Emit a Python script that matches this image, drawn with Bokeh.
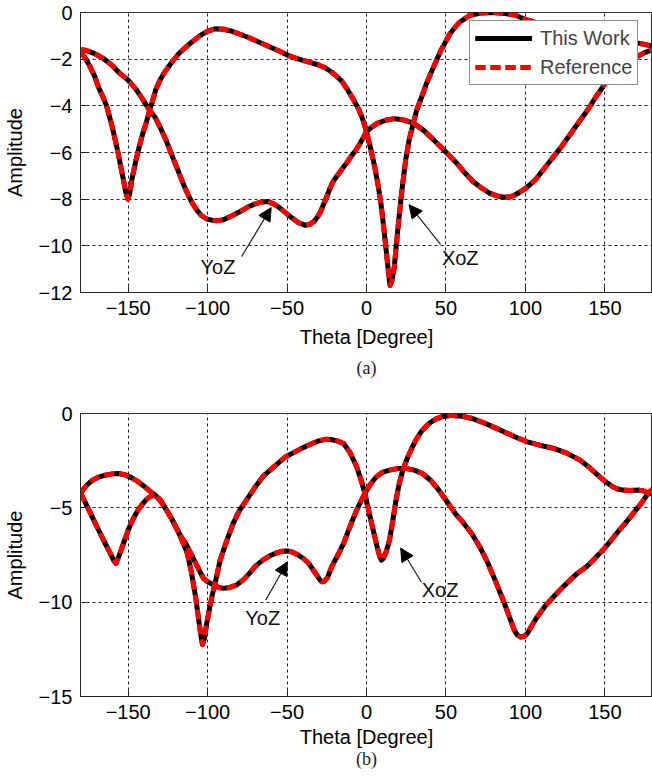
from bokeh.plotting import figure
from bokeh.models import (FixedTicker, Legend, LegendItem, Label, Arrow, NormalHead,
                          Title, Range1d)
from bokeh.layouts import column
from bokeh.embed import file_html
from bokeh.resources import INLINE

# ---------------- data: panel (a) ----------------
theta_a_xoz = [-180, -177, -174, -171, -168.8, -166, -163.6, -160, -156.4, -153.5, -151.5, -150.2,
               -149, -147.5, -145, -143, -140.9, -138.5, -136.5, -134.5, -132.6, -130, -127, -122.2,
               -118, -114, -109.8, -105, -100, -95.3, -90, -85, -80.9, -75, -70, -65, -60, -55,
               -49.8, -45, -40, -35, -30, -25.8, -22, -18.5, -15.5, -12, -8.5, -5.2, -2.5, 0, 2.5,
               5.1, 7.3, 9.3, 11, 12.4, 13.8, 14.8, 16, 17.5, 19, 20.6, 22.5, 24.7, 27, 29.5, 31.5,
               34, 38, 42.3, 47, 52.6, 58, 65, 72, 79.4, 87, 94, 100, 110, 120, 130, 140, 150, 160,
               170, 176, 180]
amp_a_xoz = [-1.7, -1.95, -2.32, -2.75, -3.18, -3.6, -4.0, -4.9, -6.0, -7.0, -7.7, -8.0,
             -7.75, -7.1, -6.3, -5.75, -5.2, -4.7, -4.2, -3.75, -3.3, -2.9, -2.55, -2.1,
             -1.75, -1.5, -1.26, -1.0, -0.8, -0.7, -0.72, -0.8, -0.9, -1.05, -1.2, -1.35, -1.5, -1.65,
             -1.82, -1.95, -2.05, -2.15, -2.25, -2.38, -2.55, -2.75, -2.95, -3.3, -3.7, -4.1, -4.55, -5.1, -5.8,
             -6.6, -7.4, -8.3, -9.3, -10.2, -11.1, -11.7, -11.5, -10.9, -9.8, -8.7, -7.5, -6.3, -5.4, -4.74, -4.2,
             -3.75, -3.0, -2.32, -1.6, -0.9, -0.45, -0.12, -0.02, 0.0, -0.04, -0.12, -0.3, -0.5, -0.65, -0.8, -0.92, -1.03, -1.15,
             -1.3, -1.38, -1.45]

theta_a_yoz = [-180, -177, -174, -170, -165, -160, -155.4, -150, -145, -141, -136.8, -133, -130,
               -126, -122.2, -118.5, -115, -112, -109.8, -107, -104, -100.5, -97.4, -93.5, -90, -85,
               -80, -75, -70, -66, -62, -58.5, -55, -51, -47, -43, -38.4, -35.5, -33, -31, -29, -27,
               -25, -22.8, -20.8, -18, -15.5, -12.5, -10, -7.5, -5.2, -2.5, 0, 3.5, 7, 12, 17.5, 23,
               29.5, 36, 42.3, 49.5, 56.7, 62, 67, 72, 77.4, 82, 86.7, 90.5, 94, 100, 106.3, 114,
               122.8, 131, 139.3, 144.5, 149.6, 155, 160, 165, 170, 175, 180]
amp_a_yoz = [-1.6, -1.62, -1.68, -1.8, -2.0, -2.27, -2.6, -2.9, -3.3, -3.7, -4.17, -4.5, -4.9,
             -5.5, -6.17, -6.8, -7.4, -7.85, -8.15, -8.45, -8.7, -8.85, -8.9, -8.92, -8.88, -8.72,
             -8.55, -8.35, -8.2, -8.12, -8.1, -8.2, -8.35, -8.58, -8.8, -9.0, -9.12, -9.07, -8.95, -8.78, -8.55, -8.22,
             -7.9, -7.5, -7.22, -6.95, -6.72, -6.45, -6.2, -5.97, -5.74, -5.42, -5.1, -4.9, -4.74, -4.62, -4.55, -4.6,
             -4.74, -5.05, -5.46, -5.95, -6.45, -6.88, -7.24, -7.5, -7.74, -7.86, -7.92, -7.9, -7.8, -7.55, -7.17, -6.5,
             -5.74, -4.95, -4.17, -3.6, -3.1, -2.72, -2.4, -2.12, -1.9, -1.72, -1.6]

# ---------------- data: panel (b) ----------------
theta_b_xoz = [-180, -176.5, -172.7, -168.5, -164.5, -161, -159, -157.7, -156, -153, -150, -147,
               -143.8, -141.5, -139, -136.5, -133.5, -130, -126, -122.5, -119, -116, -112.8, -110.2,
               -107.6, -105.5, -104, -103.2, -102, -100.5, -98.8, -97.3, -94.5, -92.1, -88, -83.9,
               -80, -75.6, -70.5, -65.3, -58, -50.8, -42, -34.3, -30, -26, -22.5, -18.5, -14.4,
               -10.5, -6.2, -3.5, -1, 1.5, 4.2, 6.5, 8.2, 9.3, 10.5, 12.5, 14.5, 16.5, 18.6, 20.5,
               22.8, 26.5, 31, 35, 39.3, 43.5, 47.5, 54, 60, 66, 72.3, 80, 88.9, 95, 101.3, 109,
               117.8, 126, 134.3, 140.5, 146.7, 151, 155, 158, 161.2, 166, 171.5, 174.5, 176.7, 180]
amp_b_xoz = [-4.2, -4.8, -5.47, -6.2, -6.88, -7.45, -7.8, -7.95, -7.6, -6.9, -6.18, -5.6,
             -5.12, -4.85, -4.6, -4.42, -4.3, -4.55, -5.1, -5.6, -6.18, -6.75, -7.41, -8.4,
             -9.71, -11.0, -11.9, -12.25, -11.9, -11.1, -10.35, -9.71, -8.7, -7.77, -6.75, -5.82,
             -5.15, -4.59, -3.95, -3.35, -2.8, -2.29, -1.9, -1.59, -1.45, -1.37, -1.38, -1.45, -1.59,
             -2.05, -2.82, -3.5, -4.24, -5.2, -6.18, -7.0, -7.55, -7.77, -7.7, -7.3, -6.71, -5.7, -4.59, -3.75,
             -3.0, -2.2, -1.41, -0.9, -0.53, -0.3, -0.17, -0.1, -0.14, -0.25, -0.44, -0.72, -1.06, -1.3, -1.5, -1.68,
             -1.85, -2.1, -2.47, -2.88, -3.35, -3.65, -3.88, -4.0, -4.06, -4.08, -4.06, -4.1, -4.2, -4.25]

theta_b_yoz = [-180, -176, -172.7, -168.5, -164.5, -160, -156.2, -152, -148, -144, -140, -136.5,
               -133.5, -130, -126, -122.5, -119, -116.5, -113.8, -111, -108, -105, -102.5, -99.5,
               -96.3, -93, -90.1, -86, -82, -77.7, -74, -70, -65.3, -61, -57, -53, -49.8, -46.5,
               -43, -39.5, -36.3, -33.5, -31, -29.5, -28.1, -26.5, -24.5, -21.9, -18, -14.4, -10.2,
               -6.2, -3.5, -1, 2.5, 6.2, 10, 14.5, 19.5, 24.8, 30, 35.2, 40.5, 45.5, 50.5, 55.8, 61,
               66.1, 71.5, 76.5, 81.5, 86.8, 90, 93, 95, 97.1, 99, 101.3, 104, 107.5, 112.5, 117.8,
               123, 128.1, 133, 138.5, 143.5, 148.8, 154, 159.1, 164.5, 169.5, 173.5, 176.7, 180]
amp_b_yoz = [-4.2, -3.8, -3.55, -3.37, -3.27, -3.2, -3.18, -3.25, -3.4, -3.6, -3.85, -4.1,
             -4.3, -4.6, -5.1, -5.6, -6.18, -6.55, -6.88, -7.35, -7.85, -8.35, -8.75, -8.95,
             -9.08, -9.22, -9.27, -9.22, -9.1, -8.83, -8.5, -8.1, -7.77, -7.55, -7.4, -7.3, -7.29, -7.35,
             -7.5, -7.7, -7.95, -8.3, -8.6, -8.8, -8.92, -8.88, -8.7, -8.12, -7.5, -6.88, -5.95,
             -5.12, -4.65, -4.24, -3.75, -3.35, -3.12, -3.0, -2.92, -2.91, -3.0, -3.18, -3.55, -4.06, -4.65, -5.29, -5.8,
             -6.35, -7.1, -7.95, -8.95, -10.06, -10.8, -11.48, -11.75, -11.85, -11.82, -11.65, -11.25, -10.77, -10.2, -9.71,
             -9.25, -8.83, -8.45, -8.12, -7.7, -7.24, -6.72, -6.18, -5.65, -5.12, -4.7, -4.3, -4.0]

x_ticks = [-150, -100, -50, 0, 50, 100, 150]
y_ticks_a = [0, -2, -4, -6, -8, -10, -12]
y_ticks_b = [0, -5, -10, -15]

# annotation anchors (text x, text y, arrow tail x, tail y, head x, head y)
notes_a = [("YoZ", -93.5, -10.9, -78.6, -10.46, -60.0, -8.36),
           ("XoZ", 59.0, -10.5, 46.6, -9.94, 26.8, -8.24)]
notes_b = [("YoZ", -65.3, -10.84, -63.4, -9.89, -49.8, -7.87),
           ("XoZ", 46.3, -9.38, 34.5, -8.93, 21.5, -7.13)]

FONT = "Liberation Sans"


def make_panel(height, top, bottom, ymin, yticks, curves, notes, caption,
               label_standoff, caption_standoff):
    p = figure(width=652, height=height, x_range=Range1d(-180, 180), y_range=Range1d(ymin, 0),
               output_backend="svg", toolbar_location=None,
               min_border_left=75, min_border_right=0, min_border_top=top, min_border_bottom=bottom)
    p.background_fill_color = "white"
    p.border_fill_color = "white"
    p.outline_line_color = "#333333"
    p.outline_line_width = 1

    p.xaxis.ticker = FixedTicker(ticks=x_ticks)
    p.yaxis.ticker = FixedTicker(ticks=yticks)
    p.xaxis.minor_tick_line_color = None
    p.yaxis.minor_tick_line_color = None
    for ax in (p.xaxis, p.yaxis):
        ax.major_tick_in = 6
        ax.major_tick_out = 0
        ax.major_tick_line_color = "#222222"
        ax.axis_line_color = "#222222"
        ax.major_label_text_font = FONT
        ax.major_label_text_font_size = "20px"
        ax.major_label_text_color = "black"
        ax.axis_label_text_font = FONT
        ax.axis_label_text_font_size = "20px"
        ax.axis_label_text_font_style = "normal"
        ax.axis_label_text_color = "black"
    p.xaxis.major_label_standoff = 8
    p.yaxis.major_label_standoff = 8
    p.xaxis.axis_label = "Theta [Degree]"
    p.yaxis.axis_label = "Amplitude"
    p.xaxis.axis_label_standoff = label_standoff
    p.yaxis.axis_label_standoff = 10

    p.grid.grid_line_color = "#222222"
    p.grid.grid_line_dash = "3 3"
    p.grid.grid_line_width = 1

    blacks, reds = [], []
    for xs, ys in curves:
        blacks.append(p.line(xs, ys, line_color="black", line_width=5, line_join="round"))
    for xs, ys in curves:
        reds.append(p.line(xs, ys, line_color="#ff0000", line_width=5, line_dash="10 5",
                           line_join="round"))

    for txt, tx, ty, ax0, ay0, ax1, ay1 in notes:
        p.add_layout(Arrow(end=NormalHead(size=13, fill_color="black", line_color="black"),
                           x_start=ax0, y_start=ay0, x_end=ax1, y_end=ay1,
                           line_color="#222222", line_width=1.2))
        p.add_layout(Label(x=tx, y=ty, text=txt, text_font=FONT, text_font_size="20px",
                           text_align="center", text_baseline="middle", text_color="#111111"))

    p.add_layout(Title(text=caption, align="center", text_font="Liberation Serif",
                       text_font_size="18px", text_font_style="normal", text_color="#222222",
                       standoff=caption_standoff),
                 "below")
    return p, blacks, reds


p1, b1, r1 = make_panel(390, 12, 98, -12, y_ticks_a,
                        [(theta_a_xoz, amp_a_xoz), (theta_a_yoz, amp_a_yoz)], notes_a, "(a)",
                        8, 10)
legend = Legend(items=[LegendItem(label="This Work", renderers=b1),
                       LegendItem(label="Reference", renderers=r1)],
                location=(389, 207), padding=5, spacing=5, margin=0,
                glyph_width=57, glyph_height=24, label_height=24, label_standoff=8,
                label_text_font=FONT, label_text_font_size="20px",
                border_line_color="#222222", border_line_width=1,
                background_fill_color="white", background_fill_alpha=1.0)
p1.add_layout(legend)

p2, b2, r2 = make_panel(392, 23, 86, -15, y_ticks_b,
                        [(theta_b_xoz, amp_b_xoz), (theta_b_yoz, amp_b_yoz)], notes_b, "(b)",
                        4, -7)

layout = column(p1, p2, spacing=0)
open("out.html", "w").write(file_html(layout, INLINE))
